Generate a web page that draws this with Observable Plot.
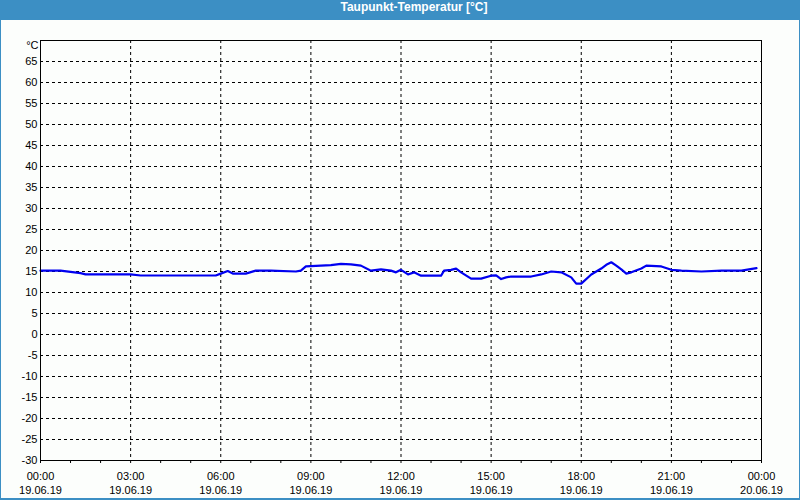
<!DOCTYPE html>
<html>
<head>
<meta charset="utf-8">
<script src="https://cdn.jsdelivr.net/npm/d3@7"></script>
<script src="https://cdn.jsdelivr.net/npm/@observablehq/plot@0.6"></script>
<style>
  html, body { margin: 0; padding: 0; background: #fcfefc; }
  #win { position: relative; width: 800px; height: 500px; box-sizing: border-box;
         border-left: 1px solid #3c8fc4; border-right: 1px solid #3c8fc4; border-bottom: 2px solid #3c8fc4;
         background: #fcfefc; overflow: hidden; }
  #title { height: 20px; line-height: 20px; background: #3c8fc4; color: #fff;
           font: bold 12px "Liberation Sans", Arial, sans-serif; text-align: center;
           padding-left: 28px; margin-left: -1px; margin-right: -1px; }
  #chart svg { display: block; }
</style>
</head>
<body>
<div id="win">
  <div id="title">Taupunkt-Temperatur [°C]</div>
  <div id="chart"></div>
</div>
<script>
// Dew point readings on 19.06.19 (time "HH:MM", value °C)
const times = ["00:00","00:20","00:40","01:00","01:20","01:30","02:00","03:00","03:20","04:40","05:50",
  "06:00","06:14","06:24","06:50","07:10","07:40","08:30","08:40","08:50","09:20","09:40","10:00",
  "10:20","10:40","11:00","11:20","11:40","11:50","12:00","12:14","12:26","12:40","13:20","13:26",
  "13:40","13:50","14:00","14:20","14:40","15:00","15:10","15:20","15:30","15:40","16:20","16:40",
  "17:00","17:20","17:40","17:50","18:00","18:20","18:40","18:50","19:00","19:10","19:20","19:30",
  "19:40","20:00","20:10","20:40","21:00","21:20","22:00","22:40","23:20","23:50"];
const values = [15.2,15.2,15.2,14.9,14.6,14.3,14.3,14.3,14.05,14.05,14.05,
  14.5,15.1,14.5,14.5,15.2,15.2,15.0,15.2,16.2,16.4,16.5,16.8,
  16.7,16.4,15.2,15.5,15.2,14.8,15.4,14.3,14.8,14.0,14.0,15.2,
  15.4,15.7,14.8,13.3,13.3,14.0,14.1,13.2,13.6,13.8,13.8,14.3,
  15.0,14.8,13.6,12.1,12.1,14.3,15.7,16.6,17.2,16.4,15.5,14.5,
  14.8,15.7,16.4,16.2,15.4,15.2,15.0,15.2,15.2,15.8];
const yTicks = [-30,-25,-20,-15,-10,-5,0,5,10,15,20,25,30,35,40,45,50,55,60,65];
const yGrid = [-25,-20,-15,-10,-5,0,5,10,15,20,25,30,35,40,45,50,55,60,65];
const unitLabel = "°C";
const xTickTimes = ["2019-06-19T00:00","2019-06-19T03:00","2019-06-19T06:00","2019-06-19T09:00",
  "2019-06-19T12:00","2019-06-19T15:00","2019-06-19T18:00","2019-06-19T21:00","2019-06-20T00:00"];
const xTickLabels = ["00:00\n19.06.19","03:00\n19.06.19","06:00\n19.06.19","09:00\n19.06.19",
  "12:00\n19.06.19","15:00\n19.06.19","18:00\n19.06.19","21:00\n19.06.19","00:00\n20.06.19"];

const parse = s => new Date(s + ":00Z");
const data = times.map((t, i) => ({ t: parse("2019-06-19T" + t), v: values[i] }));
const xTicks = xTickTimes.map(parse);
const labelMap = new Map(xTicks.map((d, i) => [+d, xTickLabels[i]]));
const xDomain = [xTicks[0], xTicks[xTicks.length - 1]];
const hourly = d3.utcHour.range(xDomain[0], d3.utcHour.offset(xDomain[1], 1));
const xGrid = xTicks.slice(1, -1);

const chart = Plot.plot({
  width: 798,
  height: 478,
  marginLeft: 39,
  marginRight: 38,
  marginTop: 20,
  marginBottom: 38,
  style: { fontFamily: "'Liberation Sans', Arial, sans-serif", fontSize: "11px", background: "transparent", color: "#000" },
  x: { type: "utc", domain: xDomain },
  y: { domain: [-30, 70] },
  marks: [
    Plot.ruleY(yGrid, { stroke: "#000", strokeWidth: 1, strokeDasharray: "3,3" }),
    Plot.ruleX(xGrid, { stroke: "#000", strokeWidth: 1, strokeDasharray: "3,3" }),
    Plot.line(data, { x: "t", y: "v", stroke: "#0000f0", strokeWidth: 2.2 }),
    Plot.frame({ stroke: "#000", strokeWidth: 1 }),
    Plot.axisY(yTicks, { tickSize: 0, tickPadding: 3, label: null, fill: "#000", tickFormat: d => String(d) }),
    Plot.axisY([70], { tickSize: 0, tickPadding: 2, label: null, fill: "#000", dy: 5, tickFormat: () => unitLabel }),
    Plot.axisX(hourly, { tickSize: 3, tickFormat: () => "", label: null, stroke: "#000" }),
    Plot.axisX(xTicks, { tickSize: 0, tickPadding: 9, label: null, fill: "#000", lineHeight: 1.3,
      tickFormat: d => labelMap.get(+d) })
  ]
});
document.getElementById("chart").append(chart);
</script>
</body>
</html>
